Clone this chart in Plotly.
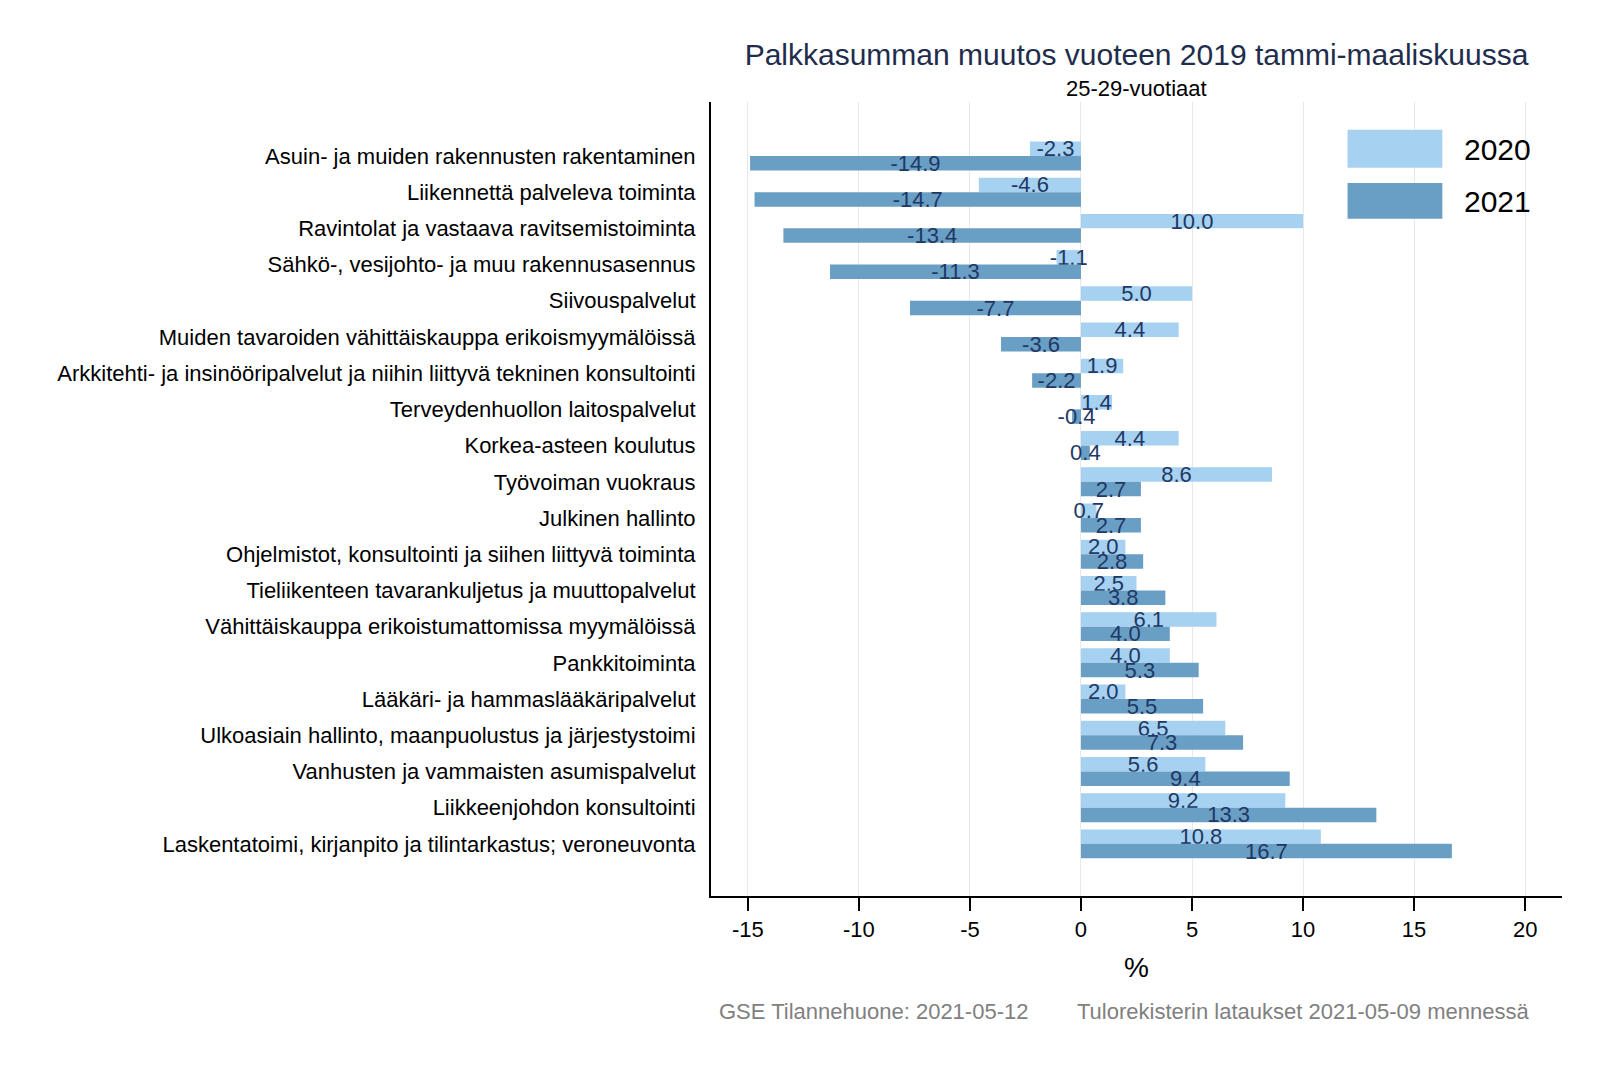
import plotly.graph_objects as go

# toimialat, ylhäältä alas
categories = [
    "Asuin- ja muiden rakennusten rakentaminen",
    "Liikennettä palveleva toiminta",
    "Ravintolat ja vastaava ravitsemistoiminta",
    "Sähkö-, vesijohto- ja muu rakennusasennus",
    "Siivouspalvelut",
    "Muiden tavaroiden vähittäiskauppa erikoismyymälöissä",
    "Arkkitehti- ja insinööripalvelut ja niihin liittyvä tekninen konsultointi",
    "Terveydenhuollon laitospalvelut",
    "Korkea-asteen koulutus",
    "Työvoiman vuokraus",
    "Julkinen hallinto",
    "Ohjelmistot, konsultointi ja siihen liittyvä toiminta",
    "Tieliikenteen tavarankuljetus ja muuttopalvelut",
    "Vähittäiskauppa erikoistumattomissa myymälöissä",
    "Pankkitoiminta",
    "Lääkäri- ja hammaslääkäripalvelut",
    "Ulkoasiain hallinto, maanpuolustus ja järjestystoimi",
    "Vanhusten ja vammaisten asumispalvelut",
    "Liikkeenjohdon konsultointi",
    "Laskentatoimi, kirjanpito ja tilintarkastus; veroneuvonta",
]
values_2020 = [-2.3, -4.6, 10.0, -1.1, 5.0, 4.4, 1.9, 1.4, 4.4, 8.6,
               0.7, 2.0, 2.5, 6.1, 4.0, 2.0, 6.5, 5.6, 9.2, 10.8]
values_2021 = [-14.9, -14.7, -13.4, -11.3, -7.7, -3.6, -2.2, -0.4, 0.4, 2.7,
               2.7, 2.8, 3.8, 4.0, 5.3, 5.5, 7.3, 9.4, 13.3, 16.7]
x_ticks = [-15, -10, -5, 0, 5, 10, 15, 20]
x_ticktext = ["-15", "-10", "-5", "0", "5", "10", "15", "20"]

FONT = "Liberation Sans, Arial, sans-serif"
LABEL_COLOR = "#1f3864"
C2020 = "#a6d1f0"
C2021 = "#6a9fc5"

fig = go.Figure()
fig.add_trace(go.Bar(y=categories, x=values_2020, name="2020", orientation="h",
                     marker=dict(color=C2020, line=dict(width=0)),
                     text=["%.1f" % v for v in values_2020], textposition="inside",
                     insidetextanchor="middle", textangle=0,
                     textfont=dict(color=LABEL_COLOR, size=22, family=FONT)))
fig.add_trace(go.Bar(y=categories, x=values_2021, name="2021", orientation="h",
                     marker=dict(color=C2021, line=dict(width=0)),
                     text=["%.1f" % v for v in values_2021], textposition="inside",
                     insidetextanchor="middle", textangle=0,
                     textfont=dict(color=LABEL_COLOR, size=22, family=FONT)))

# legend drawn by hand to get the large swatches
legend_shapes = [
    dict(type="rect", xref="paper", yref="paper", x0=0.748, x1=0.8594,
         y0=0.9173, y1=0.9649, fillcolor=C2020, line=dict(width=0)),
    dict(type="rect", xref="paper", yref="paper", x0=0.748, x1=0.8594,
         y0=0.8529, y1=0.8979, fillcolor=C2021, line=dict(width=0)),
]

fig.update_layout(
    width=1617, height=1073,
    barmode="group", bargap=0.2, bargroupgap=0,
    plot_bgcolor="white", paper_bgcolor="white",
    margin=dict(l=703, r=63, t=94, b=185),
    font=dict(family=FONT, color="black"),
    uniformtext=dict(minsize=22, mode="show"),
    showlegend=False,
    shapes=legend_shapes,
    title=dict(text="Palkkasumman muutos vuoteen 2019 tammi-maaliskuussa",
               xref="paper", x=0.5, xanchor="center",
               y=1 - 46 / 1073, yanchor="middle",
               font=dict(size=30, color="#1f2d4d")),
    annotations=[
        dict(text="25-29-vuotiaat", xref="paper", yref="paper", x=0.5, y=1.0,
             yshift=14, xanchor="center", yanchor="middle", showarrow=False,
             font=dict(size=22)),
        dict(text="2020", xref="paper", yref="paper", x=0.883, y=0.9403,
             xanchor="left", yanchor="middle", showarrow=False,
             font=dict(size=30)),
        dict(text="2021", xref="paper", yref="paper", x=0.883, y=0.8748,
             xanchor="left", yanchor="middle", showarrow=False,
             font=dict(size=30)),
        dict(text="GSE Tilannehuone: 2021-05-12", xref="paper", yref="paper",
             x=0.0073, y=0, yshift=-115, xanchor="left", yanchor="middle",
             showarrow=False, font=dict(size=22, color="#808080")),
        dict(text="Tulorekisterin lataukset 2021-05-09 mennessä", xref="paper",
             yref="paper", x=0.9639, y=0, yshift=-115, xanchor="right",
             yanchor="middle", showarrow=False, font=dict(size=22, color="#808080")),
    ],
)
fig.update_xaxes(range=[-16.66, 21.66], tickvals=x_ticks, ticktext=x_ticktext,
                 showgrid=True, gridcolor="#e8e8e8", gridwidth=1, zeroline=False,
                 showline=True, linecolor="black", linewidth=2,
                 ticks="outside", ticklen=13, tickwidth=2, tickcolor="black",
                 tickfont=dict(size=22),
                 title=dict(text="%", font=dict(size=28), standoff=16))
fig.update_yaxes(autorange=False, range=[len(categories) - 1 + 1.44, -1.49],
                 showgrid=False, showline=True, linecolor="black", linewidth=2,
                 ticks="", tickfont=dict(size=22), ticklabelstandoff=9)

fig.write_html("out.html")
